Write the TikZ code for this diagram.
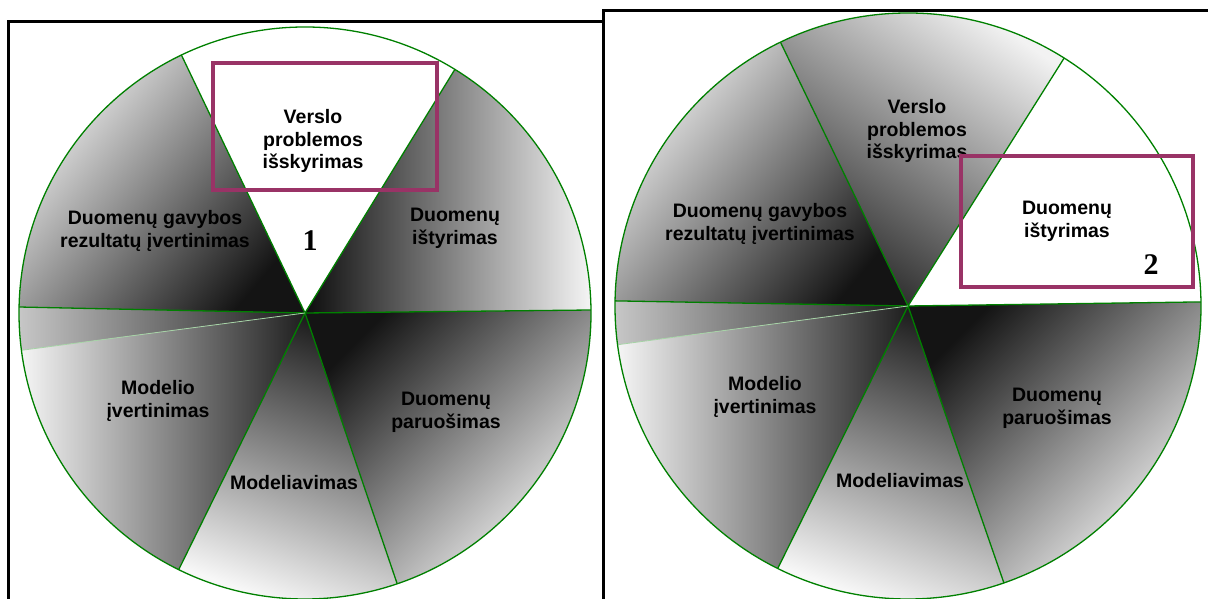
\documentclass[tikz,border=0pt]{standalone}
\usepackage{fontspec}
\setmainfont{Liberation Sans}
\newfontfamily\numfont{Liberation Serif}
\definecolor{ringgreen}{HTML}{008000}
\definecolor{plum}{HTML}{993366}
% one pie slice from centre #1, radius #2, angles #3..#4, fill options #5
\newcommand\slice[5]{\shade[#5] (#1) -- ++(#3:#2) arc[start angle=#3,end angle=#4,radius=#2] -- cycle;}
\begin{document}
\begin{tikzpicture}[x=1pt,y=1pt,
  lbl/.style={font=\fontsize{19.5}{22.8}\selectfont\bfseries, align=center, inner sep=0pt},
  num/.style={font=\numfont\fontsize{30}{30}\selectfont\bfseries, inner sep=0pt},
  rim/.style={draw=ringgreen, line width=1.3pt},
  spoke/.style={draw=ringgreen, line width=1.3pt},
  faint/.style={draw=ringgreen!35, line width=0.8pt},
  focus/.style={draw=plum, line width=4pt},
  panel/.style={draw=black, line width=3pt},
  shB/.style={top color=black!6, bottom color=black!92, shading angle=50},
  shBand/.style={left color=black!22, right color=black!90},
  shC/.style={left color=black!4, right color=black!88},
  shD/.style={top color=black!88, bottom color=black!3, shading angle=-20},
  shE/.style={top color=black!92, bottom color=black!3, shading angle=45},
  shF/.style={left color=black!95, right color=black!4},
  shA/.style={top color=black!5, bottom color=black!85, shading angle=-35}]
\useasboundingbox (0,0) rectangle (1208,599);
\clip (0,0) rectangle (1208,599);

% ---------- left pie: step 1 ----------
\coordinate (c1) at (305,286);
\slice{c1}{286}{115.6}{178.8}{shB}
\slice{c1}{286}{178.8}{187.5}{shBand}
\slice{c1}{286}{187.5}{243.8}{shC}
\slice{c1}{286}{243.8}{288.8}{shD}
\slice{c1}{286}{288.8}{360.6}{shE}
\slice{c1}{286}{0.6}{58.4}{shF}
\foreach \a in {58.4,115.6,178.8,243.8,288.8,0.6} \draw[spoke] (c1) -- ++(\a:286);
\draw[faint] (c1) -- ++(187.5:286);
\draw[rim] (c1) circle[radius=286];

\node[lbl] (v1) at (313,458) {Verslo\\problemos\\išskyrimas};
\node[num] (n1) at (310,358) {1};
\node[lbl] (g1) at (155,368) {Duomenų gavybos\\rezultatų įvertinimas};
\node[lbl] (i1) at (455,371) {Duomenų\\ištyrimas};
\node[lbl] (m1) at (158,198) {Modelio\\įvertinimas};
\node[lbl] (d1) at (294,116) {Modeliavimas};
\node[lbl] (p1) at (446,187) {Duomenų\\paruošimas};
\draw[focus] (213,409) rectangle (437,536);

% ---------- right pie: step 2 ----------
\coordinate (c2) at (908,293);
\slice{c2}{293}{57.8}{115.8}{shA}
\slice{c2}{293}{115.8}{179}{shB}
\slice{c2}{293}{179}{187.6}{shBand}
\slice{c2}{293}{187.6}{243.6}{shC}
\slice{c2}{293}{243.6}{289.1}{shD}
\slice{c2}{293}{289.1}{360.8}{shE}
\foreach \a in {57.8,115.8,179,243.6,289.1,0.8} \draw[spoke] (c2) -- ++(\a:293);
\draw[faint] (c2) -- ++(187.6:293);
\draw[rim] (c2) circle[radius=293];

\node[lbl] (v2) at (917,468) {Verslo\\problemos\\išskyrimas};
\node[lbl] (g2) at (760,375) {Duomenų gavybos\\rezultatų įvertinimas};
\node[lbl] (m2) at (765,202) {Modelio\\įvertinimas};
\node[lbl] (d2) at (900,118) {Modeliavimas};
\node[lbl] (p2) at (1057,191) {Duomenų\\paruošimas};
\node[lbl] (i2) at (1067,378) {Duomenų\\ištyrimas};
\node[num] (n2) at (1151,334) {2};
\draw[focus] (961,312) rectangle (1193,443);

% ---------- panel frames ----------
\draw[panel] (8,-20) rectangle (603,577);
\draw[panel] (603,-20) rectangle (1240,588);
\end{tikzpicture}
\end{document}
